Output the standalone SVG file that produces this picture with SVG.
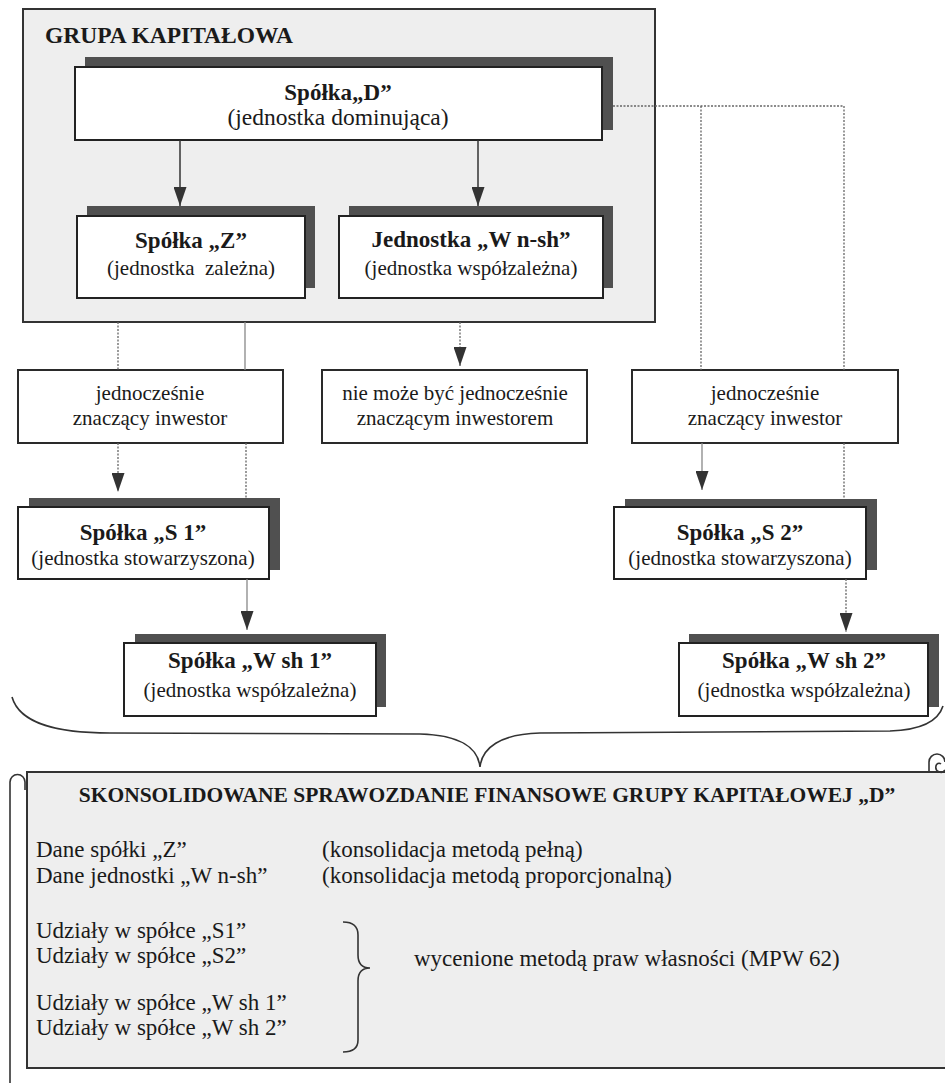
<svg xmlns="http://www.w3.org/2000/svg" width="945" height="1083" viewBox="0 0 945 1083">
  <defs>
    <style>
      text { font-family: "Liberation Serif", "Times New Roman", serif; fill: #1a1a1a; }
      .t { font-size: 23px; font-weight: bold; text-anchor: middle; }
      .s { font-size: 21px; text-anchor: middle; }
      .body { font-size: 23px; }
      .panel { fill: #eeeeee; stroke: #333; stroke-width: 2; }
      .box { fill: #fff; stroke: #222; stroke-width: 2; }
      .shadow { fill: #505050; }
      .plain { fill: #fff; stroke: #2a2a2a; stroke-width: 2; }
      .solid { stroke: #333; stroke-width: 1.5; fill: none; }
      .grey { stroke: #888; stroke-width: 1.3; fill: none; }
      .dot { stroke: #666; stroke-width: 1.3; stroke-dasharray: 2 1.5; fill: none; }
      .line { stroke: #333; stroke-width: 1.6; fill: none; }
    </style>
    <marker id="arrow" markerUnits="userSpaceOnUse" markerWidth="19" markerHeight="13" viewBox="0 0 19 13" refX="19" refY="6.5" orient="auto">
      <path d="M0,0 L19,6.5 L0,13 z" fill="#333"/>
    </marker>
  </defs>

  <rect width="945" height="1083" fill="#fff"/>

  <!-- capital group frame -->
  <g id="grupa">
    <rect class="panel" x="23" y="9" width="632" height="313"/>
    <text x="45" y="43" style="font-size:23.5px;font-weight:bold">GRUPA KAPITAŁOWA</text>
  </g>

  <g id="spolka-d">
    <rect class="shadow" x="85" y="57" width="528" height="73"/>
    <rect class="box" x="75" y="67" width="527" height="73"/>
    <text class="t" x="338" y="100">Spółka„D”</text>
    <text class="s" x="338" y="125" style="font-size:23.5px">(jednostka dominująca)</text>
  </g>

  <g id="spolka-z">
    <rect class="shadow" x="87" y="206" width="228" height="82"/>
    <rect class="box" x="77" y="216" width="228" height="82"/>
    <text class="t" x="191" y="248">Spółka „Z”</text>
    <text class="s" x="191" y="275" xml:space="preserve">(jednostka  zależna)</text>
  </g>

  <g id="jednostka-wnsh">
    <rect class="shadow" x="349" y="206" width="264" height="82"/>
    <rect class="box" x="339" y="216" width="264" height="82"/>
    <text class="t" x="471" y="247">Jednostka „W n-sh”</text>
    <text class="s" x="471" y="275">(jednostka współzależna)</text>
  </g>

  <g id="inwestor-lewy">
    <rect class="plain" x="18" y="370" width="265" height="73"/>
    <text class="s" x="150" y="400">jednocześnie</text>
    <text class="s" x="150" y="425">znaczący inwestor</text>
  </g>

  <g id="inwestor-srodek">
    <rect class="plain" x="322" y="370" width="265" height="73"/>
    <text class="s" x="455" y="400">nie może być jednocześnie</text>
    <text class="s" x="455" y="425">znaczącym inwestorem</text>
  </g>

  <g id="inwestor-prawy">
    <rect class="plain" x="632" y="370" width="266" height="73"/>
    <text class="s" x="765" y="400">jednocześnie</text>
    <text class="s" x="765" y="425">znaczący inwestor</text>
  </g>

  <g id="spolka-s1">
    <rect class="shadow" x="29" y="498" width="251" height="72"/>
    <rect class="box" x="18" y="507" width="251" height="72"/>
    <text class="t" x="143" y="540">Spółka „S 1”</text>
    <text class="s" x="143" y="565">(jednostka stowarzyszona)</text>
  </g>

  <g id="spolka-s2">
    <rect class="shadow" x="625" y="499" width="252" height="71"/>
    <rect class="box" x="614" y="507" width="252" height="72"/>
    <text class="t" x="740" y="540">Spółka „S 2”</text>
    <text class="s" x="740" y="565">(jednostka stowarzyszona)</text>
  </g>

  <g id="spolka-wsh1">
    <rect class="shadow" x="135" y="634" width="251" height="73"/>
    <rect class="box" x="124" y="643" width="252" height="73"/>
    <text class="t" x="250" y="668">Spółka „W sh 1”</text>
    <text class="s" x="250" y="697">(jednostka współzależna)</text>
  </g>

  <g id="spolka-wsh2">
    <rect class="shadow" x="689" y="634" width="250" height="73"/>
    <rect class="box" x="679" y="643" width="249" height="73"/>
    <text class="t" x="804" y="668">Spółka „W sh 2”</text>
    <text class="s" x="804" y="697">(jednostka współzależna)</text>
  </g>

  <!-- connectors -->
  <g id="connectors">
    <line class="solid" x1="180" y1="140" x2="180" y2="206" marker-end="url(#arrow)"/>
    <line class="solid" x1="478" y1="140" x2="478" y2="206" marker-end="url(#arrow)"/>
    <line class="dot" x1="613" y1="106" x2="844" y2="106"/>
    <line class="dot" x1="701" y1="106" x2="701" y2="370"/>
    <line class="dot" x1="844" y1="106" x2="844" y2="370"/>
    <line class="dot" x1="118" y1="322" x2="118" y2="370"/>
    <line class="grey" x1="245" y1="322" x2="245" y2="370"/>
    <line class="dot" x1="460" y1="322" x2="460" y2="366" marker-end="url(#arrow)"/>
    <line class="dot" x1="118" y1="443" x2="118" y2="492" marker-end="url(#arrow)"/>
    <line class="dot" x1="246" y1="443" x2="246" y2="498"/>
    <line class="grey" x1="702" y1="443" x2="702" y2="490" marker-end="url(#arrow)"/>
    <line class="dot" x1="844" y1="443" x2="844" y2="499"/>
    <line class="grey" x1="247" y1="579" x2="247" y2="630" marker-end="url(#arrow)"/>
    <line class="dot" x1="846" y1="579" x2="846" y2="632" marker-end="url(#arrow)"/>
    <!-- large brace gathering the group -->
    <path class="line" d="M12 697 C20 725 60 733 110 733 L420 734 C460 735 478 748 480 767 C482 748 500 734 540 733 L890 731 C920 730 938 722 943 706"/>
  </g>

  <!-- consolidated statement scroll -->
  <g id="sprawozdanie">
    <rect class="panel" x="27" y="772" width="930" height="296"/>
    <path class="line" d="M10 1090 L10 782 A7.5 7.5 0 0 1 25 782 L25 790"/>
    <path class="line" d="M929 772 L929 762 A8 8 0 0 1 945 762"/>
    <path class="line" d="M945 770 A5 5 0 0 1 936 766 A3 3 0 0 1 941 764"/>
    <text x="487" y="802" style="font-size:21.5px;font-weight:bold;text-anchor:middle">SKONSOLIDOWANE SPRAWOZDANIE FINANSOWE GRUPY KAPITAŁOWEJ „D”</text>
    <text class="body" x="36" y="857">Dane spółki „Z”</text>
    <text class="body" x="322" y="857">(konsolidacja metodą pełną)</text>
    <text class="body" x="36" y="883">Dane jednostki „W n-sh”</text>
    <text class="body" x="322" y="883">(konsolidacja metodą proporcjonalną)</text>
    <text class="body" x="36" y="938">Udziały w spółce „S1”</text>
    <text class="body" x="36" y="963">Udziały w spółce „S2”</text>
    <text class="body" x="36" y="1010">Udziały w spółce „W sh 1”</text>
    <text class="body" x="36" y="1035">Udziały w spółce „W sh 2”</text>
    <path class="line" d="M343 922 Q358 922 358 935 L358 955 Q358 968 370 968 Q358 968 358 981 L358 1040 Q358 1052 343 1052"/>
    <text class="body" x="414" y="966">wycenione metodą praw własności (MPW 62)</text>
  </g>
</svg>
